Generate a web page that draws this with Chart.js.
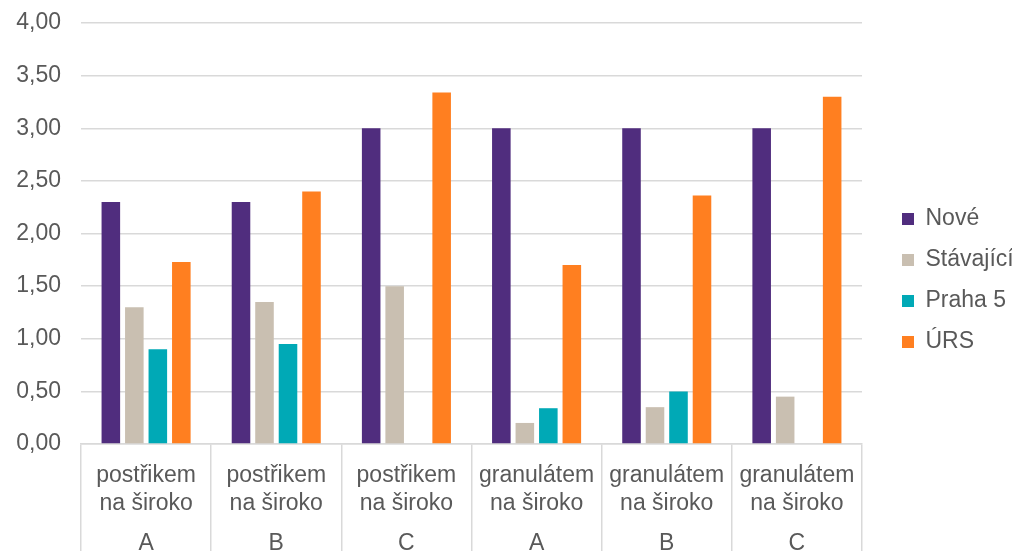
<!DOCTYPE html>
<html>
<head>
<meta charset="utf-8">
<script src="https://cdn.jsdelivr.net/npm/chart.js@4.4.1/dist/chart.umd.min.js"></script>
<style>
    html, body {
        margin: 0;
        padding: 0;
        background: #fff;
    }

    #wrap {
        width: 1012px;
        height: 551px;
    }
</style>
</head>
<body>
<div id="wrap"><canvas id="chart"></canvas></div>
<script>
const methodLabels = [
    ["postřikem", "na široko"],
    ["postřikem", "na široko"],
    ["postřikem", "na široko"],
    ["granulátem", "na široko"],
    ["granulátem", "na široko"],
    ["granulátem", "na široko"]
];
const variantLabels = ["A", "B", "C", "A", "B", "C"];

const noveValues = [2.30, 2.30, 3.00, 3.00, 3.00, 3.00];
const stavajiciValues = [1.30, 1.35, 1.50, 0.20, 0.35, 0.45];
const praha5Values = [0.90, 0.95, null, 0.34, 0.50, null];
const ursValues = [1.73, 2.40, 3.34, 1.70, 2.36, 3.30];

const TEXT_COLOR = "#595959";
const GRID_COLOR = "#d9d9d9";
const FONT_FAMILY = "'Liberation Sans', Arial, sans-serif";
const FONT_SIZE = 23;
const LEGEND_WIDTH = 150;
const LEGEND_SHIFT_X = 22;
const LEGEND_SHIFT_Y = 5;

function formatCzech(value) {

    return Number(value).toFixed(2).replace(".", ",");
}

// draws the second row of category labels (A / B / C) under the method names
const variantRowPlugin = {
    id: "variantRow",
    afterDraw(chart) {

        const xScale = chart.scales.x;
        const ctx = chart.ctx;

        ctx.save();
        ctx.font = FONT_SIZE + "px " + FONT_FAMILY;
        ctx.fillStyle = TEXT_COLOR;
        ctx.textAlign = "center";
        ctx.textBaseline = "middle";

        variantLabels.forEach((label, index) => {
            ctx.fillText(label, xScale.getPixelForValue(index), 544);
        });

        ctx.restore();
    }
};

// keeps a gap between the plot and the legend on the right
const legendGapPlugin = {
    id: "legendGap",
    afterInit(chart) {

        const legend = chart.legend;

        if (!legend) {
            return;
        }

        const originalFit = legend.fit;

        legend.fit = function () {

            originalFit.call(this);
            this.width = LEGEND_WIDTH;
        };
    },
    afterLayout(chart) {

        const legend = chart.legend;

        if (legend) {
            legend.left += LEGEND_SHIFT_X;
            legend.right += LEGEND_SHIFT_X;
            legend.top += LEGEND_SHIFT_Y;
            legend.bottom += LEGEND_SHIFT_Y;
        }
    }
};

function buildDataset(label, data, color) {

    return {
        label,
        data,
        backgroundColor: color,
        borderWidth: 0,
        barPercentage: 0.79,
        categoryPercentage: 0.722
    };
}

const chartConfig = {
    type: "bar",
    data: {
        labels: methodLabels,
        datasets: [
            buildDataset("Nové", noveValues, "#502d7e"),
            buildDataset("Stávající", stavajiciValues, "#c9bfb1"),
            buildDataset("Praha 5", praha5Values, "#00a9b6"),
            buildDataset("ÚRS", ursValues, "#ff7f20")
        ]
    },
    options: {
        responsive: true,
        maintainAspectRatio: false,
        animation: false,
        layout: {
            padding: {
                top: 0,
                left: 15,
                right: 0,
                bottom: 0
            }
        },
        plugins: {
            legend: {
                position: "right",
                align: "center",
                labels: {
                    boxWidth: 12,
                    boxHeight: 12,
                    padding: 18,
                    color: TEXT_COLOR,
                    font: {
                        family: FONT_FAMILY,
                        size: FONT_SIZE
                    }
                }
            },
            tooltip: {
                enabled: false
            }
        },
        scales: {
            x: {
                border: {
                    display: true,
                    color: GRID_COLOR,
                    width: 1.5
                },
                grid: {
                    offset: true,
                    drawOnChartArea: false,
                    drawTicks: true,
                    tickLength: 107,
                    color: GRID_COLOR,
                    lineWidth: 1.5
                },
                ticks: {
                    padding: -89,
                    maxRotation: 0,
                    autoSkip: false,
                    color: TEXT_COLOR,
                    font: {
                        family: FONT_FAMILY,
                        size: FONT_SIZE,
                        lineHeight: "28px"
                    }
                },
                afterFit(scale) {
                    scale.height = 107;
                    scale.paddingLeft = 0;
                    scale.paddingRight = 0;
                }
            },
            y: {
                min: 0,
                max: 4,
                border: {
                    display: false
                },
                grid: {
                    color: GRID_COLOR,
                    lineWidth: 1.5,
                    drawTicks: false
                },
                ticks: {
                    stepSize: 0.5,
                    padding: 20,
                    color: TEXT_COLOR,
                    font: {
                        family: FONT_FAMILY,
                        size: FONT_SIZE
                    },
                    callback: (value) => formatCzech(value)
                },
                afterFit(scale) {
                    scale.width = 66;
                    scale.paddingTop = 23;
                    scale.paddingBottom = 0;
                }
            }
        }
    },
    plugins: [variantRowPlugin, legendGapPlugin]
};

new Chart(document.getElementById("chart").getContext("2d"), chartConfig);
</script>
</body>
</html>
